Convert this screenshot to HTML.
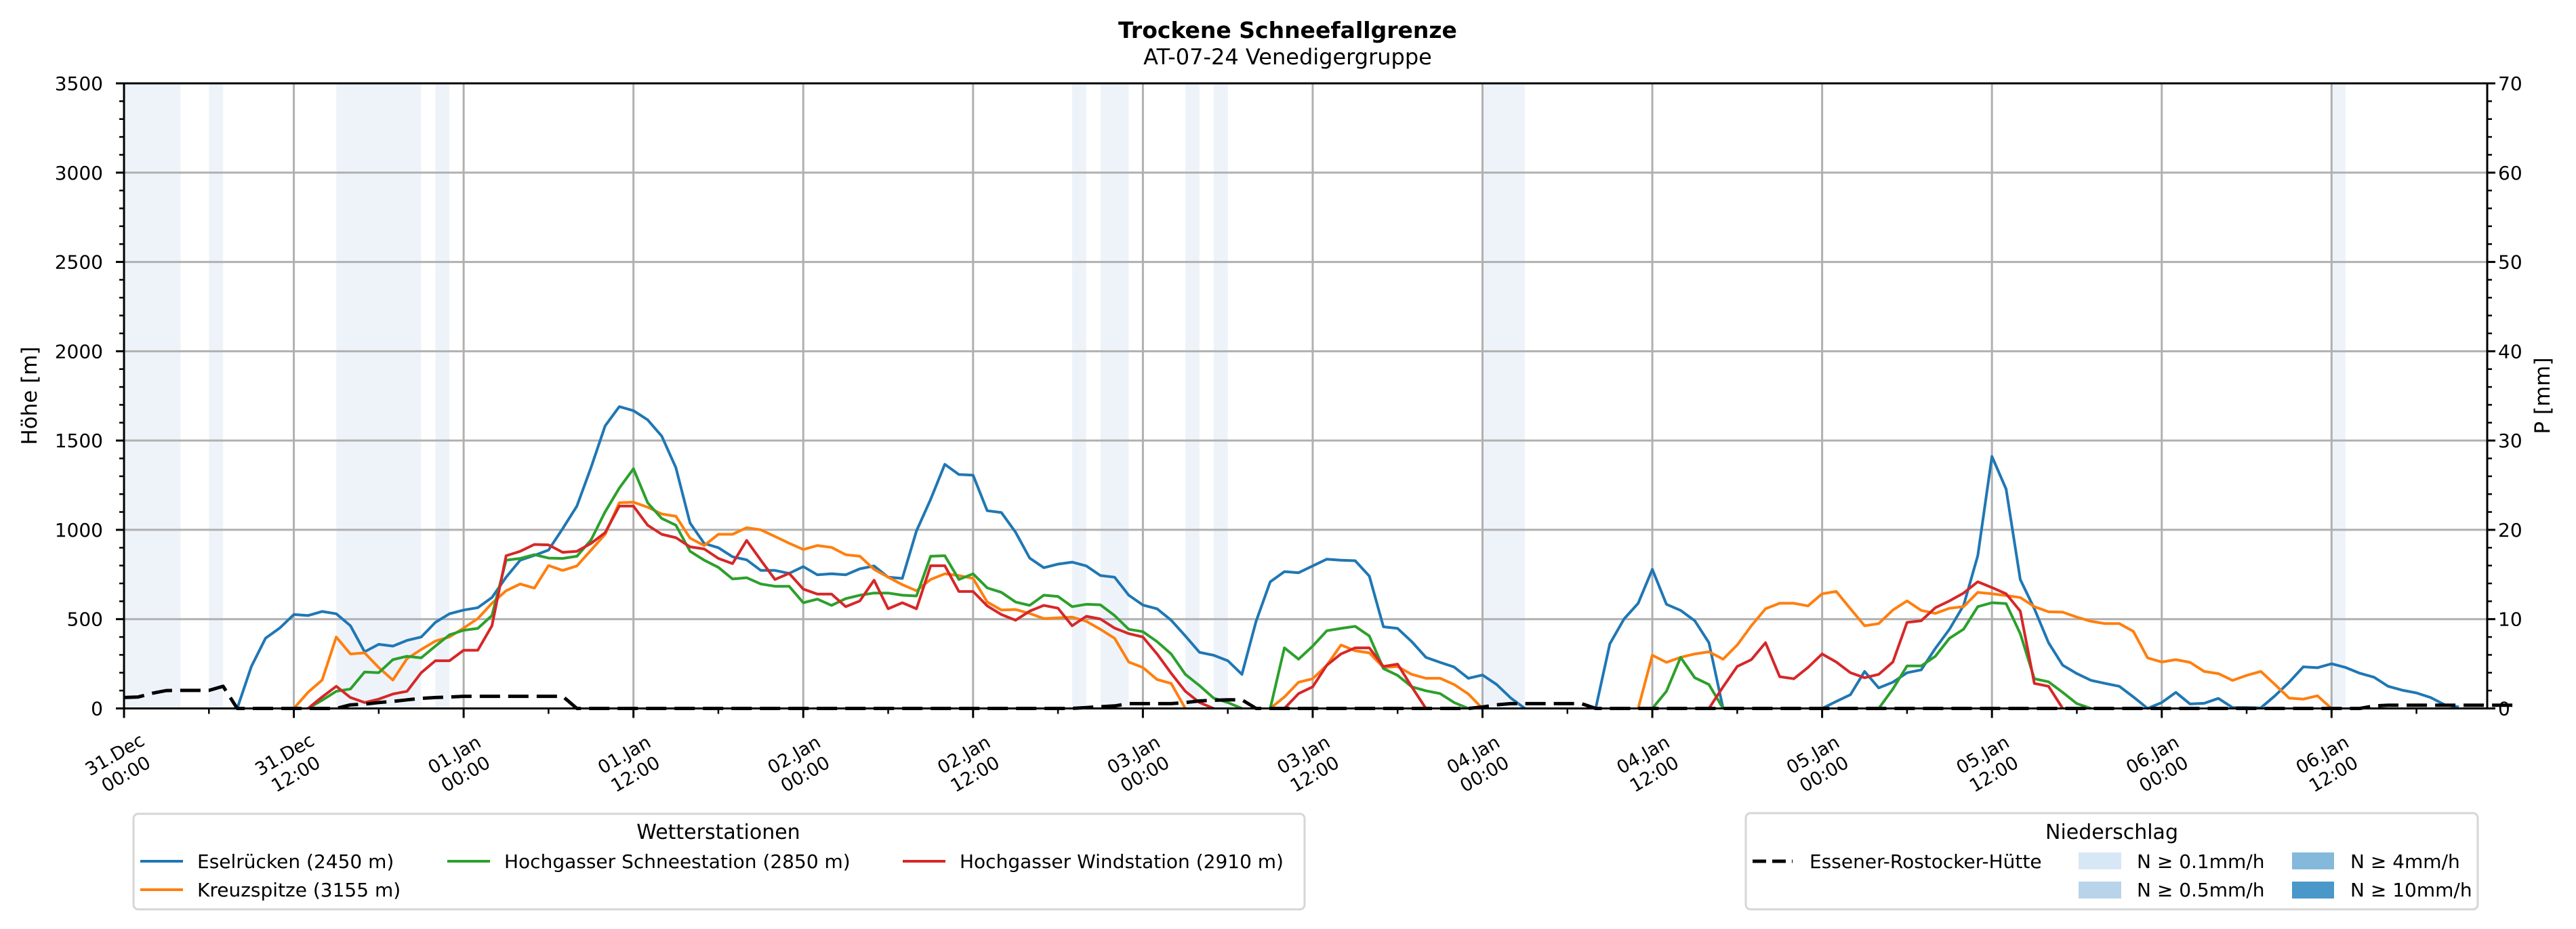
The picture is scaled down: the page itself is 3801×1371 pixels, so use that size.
<!DOCTYPE html>
<html><head><meta charset="utf-8"><style>
html,body{margin:0;padding:0;background:#fff;}
svg{display:block;font-family:"DejaVu Sans","Liberation Sans",sans-serif;}
</style></head><body>
<svg id="chart" width="3801" height="1371" viewBox="0 0 3801 1371" xmlns="http://www.w3.org/2000/svg">
<text x="1900" y="56" text-anchor="middle" font-size="33" font-weight="bold">Trockene Schneefallgrenze</text>
<text x="1900" y="95" text-anchor="middle" font-size="32">AT-07-24 Venedigergruppe</text>
<g id="bands"></g><g id="grid"></g><g id="series"></g><g id="axes"></g>
<text transform="translate(54,584) rotate(-90)" text-anchor="middle" font-size="31">Höhe [m]</text>
<text transform="translate(3762,584) rotate(-90)" text-anchor="middle" font-size="31">P [mm]</text>
<g>
<rect x="197" y="1201" width="1728" height="141" rx="7" fill="#fff" stroke="#d6d6d6" stroke-width="3"/>
<text x="1060" y="1238" text-anchor="middle" font-size="30">Wetterstationen</text>
<g><line x1="207" y1="1271" x2="270" y2="1271" stroke="#1f77b4" stroke-width="4"/><text x="291" y="1281" font-size="28">Eselrücken (2450 m)</text></g>
<g><line x1="207" y1="1313" x2="270" y2="1313" stroke="#ff7f0e" stroke-width="4"/><text x="291" y="1323" font-size="28">Kreuzspitze (3155 m)</text></g>
<g><line x1="660" y1="1271" x2="723" y2="1271" stroke="#2ca02c" stroke-width="4"/><text x="744" y="1281" font-size="28">Hochgasser Schneestation (2850 m)</text></g>
<g><line x1="1332" y1="1271" x2="1395" y2="1271" stroke="#d62728" stroke-width="4"/><text x="1416" y="1281" font-size="28">Hochgasser Windstation (2910 m)</text></g>
</g>
<g>
<rect x="2576" y="1200" width="1080" height="142" rx="7" fill="#fff" stroke="#d6d6d6" stroke-width="3"/>
<text x="3116" y="1238" text-anchor="middle" font-size="30">Niederschlag</text>
<g><line x1="2586" y1="1271" x2="2645" y2="1271" stroke="#000" stroke-width="5" stroke-dasharray="20,9"/><text x="2670" y="1281" font-size="28">Essener-Rostocker-Hütte</text></g>
<g><rect x="3067" y="1258" width="63" height="25" fill="#d8e7f5"/><text x="3153" y="1281" font-size="28">N ≥ 0.1mm/h</text></g>
<g><rect x="3067" y="1301" width="63" height="25" fill="#b8d4ea"/><text x="3153" y="1323" font-size="28">N ≥ 0.5mm/h</text></g>
<g><rect x="3382" y="1258" width="62" height="25" fill="#84b9db"/><text x="3468" y="1281" font-size="28">N ≥ 4mm/h</text></g>
<g><rect x="3382" y="1301" width="62" height="25" fill="#4a97c9"/><text x="3468" y="1323" font-size="28">N ≥ 10mm/h</text></g>
</g>
</svg>
<script>
const N=null;
const blue=[N,N,N,N,N,N,N,N,0,235,393,450,526,520,543,530,463,317,359,349,381,400,482,530,551,564,621,735,830,857,887,1007,1133,1348,1582,1690,1667,1616,1525,1348,1038,924,900,849,832,773,773,756,794,748,754,748,782,798,735,728,994,1171,1367,1310,1306,1107,1097,987,842,788,808,819,798,744,735,634,579,558,494,406,314,298,267,191,488,709,766,760,798,836,830,827,741,457,448,374,286,258,232,169,187,134,58,0,N,N,N,N,0,362,501,589,779,583,549,491,368,0,N,N,N,N,N,N,0,39,77,207,115,147,200,216,336,444,577,855,1411,1228,722,558,368,242,195,157,140,124,64,0,33,90,25,29,56,5,5,3,71,147,233,228,250,229,197,175,124,102,87,61,20,8,N,N];
const orange=[N,N,N,N,N,N,N,N,N,N,N,N,0,90,159,400,305,311,229,159,279,330,377,400,450,503,589,659,697,674,800,773,798,886,975,1152,1155,1127,1089,1076,954,912,975,975,1012,1000,963,925,890,912,902,861,852,779,735,693,659,722,754,744,728,596,551,554,532,503,507,511,488,443,393,260,229,162,140,0,N,N,N,N,N,0,64,147,166,242,355,323,311,229,235,191,169,169,134,81,0,N,N,N,N,N,N,N,N,N,N,0,298,258,286,305,317,276,355,463,558,589,589,574,642,655,558,463,475,551,602,549,532,561,570,650,642,632,621,570,541,539,511,488,475,475,431,283,260,273,258,207,195,157,185,207,134,58,52,71,0,N,N,N,N,N,N,N,N,N,N,N];
const green=[N,N,N,N,N,N,N,N,N,N,N,N,N,0,46,96,109,204,200,273,292,283,349,412,438,448,520,830,840,861,842,840,852,943,1101,1234,1342,1152,1064,1026,880,830,790,725,732,697,684,684,592,612,577,615,634,646,646,634,630,852,855,722,754,675,650,596,577,634,627,570,583,580,520,443,430,374,305,191,128,58,33,0,N,0,339,276,349,435,448,460,406,223,185,121,99,83,33,0,N,N,N,N,N,N,N,N,N,N,N,N,0,96,286,172,134,0,N,N,N,N,N,N,N,N,N,N,0,109,238,238,292,393,444,570,592,587,419,166,149,90,27,0,N,N,N,N,N,N,N,N,N,N,N,N,N,N,N,N,N,N,N,N,N,N,N,N,N,N,N,N];
const red=[N,N,N,N,N,N,N,N,N,N,N,N,N,0,64,124,61,33,52,81,96,200,267,267,326,326,463,855,880,918,916,874,880,924,984,1133,1133,1026,975,956,905,893,840,811,941,830,722,756,668,640,640,570,602,718,558,592,558,799,799,655,655,574,526,494,545,577,561,463,516,501,450,419,400,305,197,96,33,0,N,N,N,N,0,83,121,242,305,339,339,235,248,121,0,N,N,N,N,N,N,N,N,N,N,N,N,N,N,N,N,N,N,N,0,121,235,273,368,178,166,229,305,260,200,172,191,260,482,491,564,602,646,709,677,642,545,140,124,0,N,N,N,N,N,N,N,N,N,N,N,N,N,N,N,N,N,N,N,N,N,N,N,N,N,N,N,N,N,N];
const huette=[61,64,85,100,101,101,101,124,0,0,0,0,0,0,0,0,20,24,33,39,48,56,61,64,68,68,68,68,68,68,68,68,0,0,0,0,0,0,0,0,0,0,0,0,0,0,0,0,0,0,0,0,0,0,0,0,0,0,0,0,0,0,0,0,0,0,0,0,5,10,14,27,27,27,27,33,42,46,48,48,0,0,0,0,0,0,0,0,0,0,0,0,0,0,0,0,8,20,27,27,27,27,27,27,0,0,0,0,0,0,0,0,0,0,0,0,0,0,0,0,0,0,0,0,0,0,0,0,0,0,0,0,0,0,0,0,0,0,0,0,0,0,0,0,0,0,0,0,0,0,0,0,0,0,0,0,0,0,0,14,18,18,18,18,18,18,18,18,18,18];
const precipStart=[0,6,15,22,67,69,75,77,96,156];
const precipEnd=[4,7,21,23,68,71,76,78,99,157];
const yTicks=[0,500,1000,1500,2000,2500,3000,3500];
const y2Ticks=[0,10,20,30,40,50,60,70];
const xTickHours=[0,12,24,36,48,60,72,84,96,108,120,132,144,156];
const xTickLabels=[["31.Dec","00:00"],["31.Dec","12:00"],["01.Jan","00:00"],["01.Jan","12:00"],["02.Jan","00:00"],["02.Jan","12:00"],["03.Jan","00:00"],["03.Jan","12:00"],["04.Jan","00:00"],["04.Jan","12:00"],["05.Jan","00:00"],["05.Jan","12:00"],["06.Jan","00:00"],["06.Jan","12:00"]];

const NS="http://www.w3.org/2000/svg";
const L=183,R=3670,T=123,B=1045.5,HMAX=167,YMAX=3500;
const xs=h=>L+(R-L)*h/HMAX;
const ys=v=>B-(B-T)*v/YMAX;
const y2s=v=>B-(B-T)*v/70;
function mk(tag,parent,attrs){const e=document.createElementNS(NS,tag);for(const k in attrs)e.setAttribute(k,attrs[k]);parent.appendChild(e);return e;}
const gB=document.getElementById('bands'),gG=document.getElementById('grid'),gS=document.getElementById('series'),gA=document.getElementById('axes');
precipStart.forEach((s,i)=>{const r=mk('rect',gB,{x:xs(s),y:T,width:xs(precipEnd[i])-xs(s),height:B-T,fill:'#eef3fa'});

});
yTicks.forEach(v=>{const l=mk('line',gG,{x1:L,x2:R,y1:ys(v),y2:ys(v),stroke:'#b0b0b0','stroke-width':3});

});
xTickHours.forEach(h=>{const l=mk('line',gG,{x1:xs(h),x2:xs(h),y1:T,y2:B,stroke:'#b0b0b0','stroke-width':3});

});
function drawSeries(arr,color,name,dash){let segs=[],cur=[];arr.forEach((v,i)=>{if(v===null){if(cur.length)segs.push(cur);cur=[];}else cur.push(xs(i).toFixed(1)+','+ys(v).toFixed(1));});if(cur.length)segs.push(cur);
const g=mk('g',gS,{});


segs.forEach(s=>{const a={points:s.join(' '),fill:'none',stroke:color,'stroke-width':dash?5:4,'stroke-linejoin':'round'};if(dash)a['stroke-dasharray']='30,12';mk('polyline',g,a);});}
drawSeries(blue,'#1f77b4','series-eselruecken');
drawSeries(orange,'#ff7f0e','series-kreuzspitze');
drawSeries(green,'#2ca02c','series-hochgasser-schnee');
drawSeries(red,'#d62728','series-hochgasser-wind');
drawSeries(huette,'#000','series-essener-rostocker-huette',true);
mk('rect',gA,{x:L,y:T,width:R-L,height:B-T,fill:'none',stroke:'#000','stroke-width':3});
for(let v=0;v<=YMAX;v+=100){const maj=v%500===0;mk('line',gA,{x1:L-(maj?12:7),x2:L,y1:ys(v),y2:ys(v),stroke:'#000','stroke-width':maj?3:2.5});}
for(let v=0;v<=70;v+=2){const maj=v%10===0;mk('line',gA,{x1:R,x2:R+(maj?12:7),y1:y2s(v),y2:y2s(v),stroke:'#000','stroke-width':maj?3:2.5});}
for(let h=0;h<=HMAX;h+=6){const maj=h%12===0;mk('line',gA,{x1:xs(h),x2:xs(h),y1:B,y2:B+(maj?14:8),stroke:'#000','stroke-width':maj?3:2.5});}
yTicks.forEach(v=>{const t=mk('text',gA,{x:152,y:ys(v)+10,'text-anchor':'end','font-size':28});t.textContent=v;

});
y2Ticks.forEach(v=>{const t=mk('text',gA,{x:3686,y:y2s(v)+10,'font-size':28});t.textContent=v;

});
xTickHours.forEach((h,i)=>{const cx=xs(h)-6,cy=1127;const t=mk('text',gA,{transform:`translate(${cx},${cy}) rotate(-30)`,'text-anchor':'middle','font-size':27});


const a=mk('tspan',t,{x:0,y:-6});a.textContent=xTickLabels[i][0];const b=mk('tspan',t,{x:0,y:27});b.textContent=xTickLabels[i][1];});
</script>
</body></html>
